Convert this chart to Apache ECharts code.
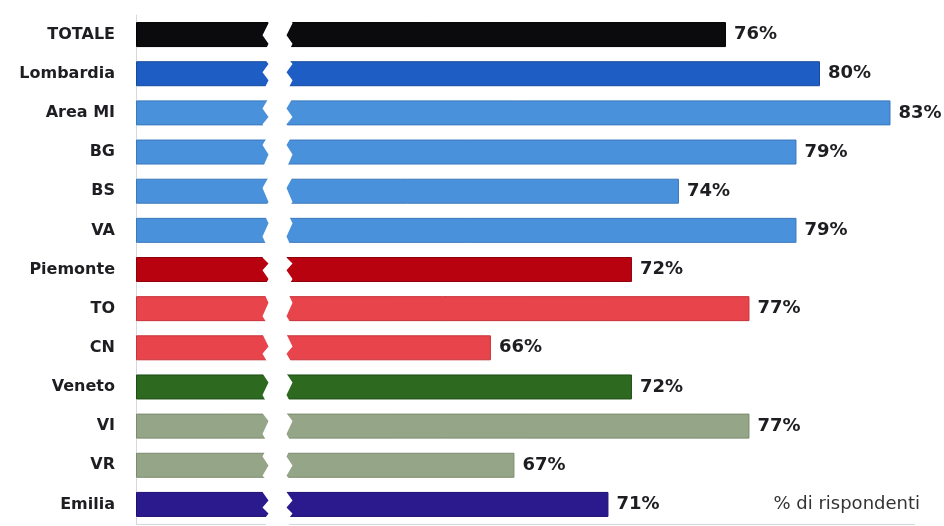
<!DOCTYPE html>
<html>
<head>
<meta charset="utf-8">
<script src="https://cdn.jsdelivr.net/npm/echarts@6/dist/echarts.min.js"></script>
<style>html,body{margin:0;padding:0;background:#fff;}#c{width:944px;height:526px;}</style>
</head>
<body>
<div id="c"></div>
<script>
const categories = ['TOTALE','Lombardia','Area MI','BG','BS','VA','Piemonte','TO','CN','Veneto','VI','VR','Emilia'];
const values = [76, 80, 83, 79, 74, 79, 72, 77, 66, 72, 77, 67, 71];
const barColors = ['#0b0b0d','#1e5ec4','#4a91dc','#4a91dc','#4a91dc','#4a91dc','#b80210','#e8444c','#e8444c','#2d6a20','#95a688','#95a688','#2b1a8e'];
const borderColors = ['#000000','#164a9c','#3a78bc','#3a78bc','#3a78bc','#3a78bc','#8e000a','#c8323a','#c8323a','#1f4d16','#7a8a6e','#7a8a6e','#1d1070'];
const unitNote = '% di rispondenti';

const chart = echarts.init(document.getElementById('c'), null, {renderer: 'canvas'});
chart.setOption({
  animation: false,
  backgroundColor: '#ffffff',
  title: {
    text: unitNote,
    right: 19,
    bottom: 8,
    textStyle: {fontFamily: 'DejaVu Sans', fontWeight: 'normal', fontSize: 18, color: '#333'}
  },
  grid: {left: 136, right: 30, top: 15, bottom: 2, containLabel: false},
  xAxis: {
    type: 'value',
    min: 0,
    max: 84,
    breaks: [{start: 5.5, end: 57.4, gap: 1}],
    breakArea: {
      show: true,
      itemStyle: {color: '#ffffff', borderColor: '#ffffff', borderWidth: 0, opacity: 1},
      zigzagAmplitude: 3,
      zigzagMinSpan: 6,
      zigzagMaxSpan: 14,
      zigzagZ: 100,
      expandOnClick: false
    },
    axisLine: {show: true, lineStyle: {color: '#d4d8de', width: 1}},
    axisTick: {show: false},
    axisLabel: {show: false},
    splitLine: {show: false}
  },
  yAxis: {
    type: 'category',
    data: categories,
    inverse: true,
    axisLine: {show: true, lineStyle: {color: '#d4d8de', width: 1}},
    axisTick: {show: false},
    axisLabel: {
      margin: 21,
      fontFamily: 'DejaVu Sans',
      fontWeight: 'bold',
      fontSize: 16,
      color: '#1e1e22'
    }
  },
  series: [{
    type: 'bar',
    barWidth: 25,
    data: values.map((v, i) => ({
      value: v,
      itemStyle: {color: barColors[i], borderColor: borderColors[i], borderWidth: 1}
    })),
    label: {
      show: true,
      position: 'right',
      distance: 8,
      formatter: '{c}%',
      fontFamily: 'DejaVu Sans',
      fontWeight: 'bold',
      fontSize: 18,
      color: '#1e1e22'
    }
  }]
});
</script>
</body>
</html>
